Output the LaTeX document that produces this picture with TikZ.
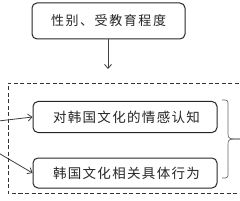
\documentclass[tikz,border=0pt]{standalone}
\usepackage{fontspec}
\newfontfamily\cjk{Noto Sans CJK SC}
\usetikzlibrary{arrows.meta}
\newcommand\spreadtxt[2]{\makebox[#1][s]{#2}}
\begin{document}
\begin{tikzpicture}[x=1pt,y=-1pt,
  roundbox/.style={draw=black!85, rounded corners=5pt, line width=1pt, inner sep=0pt, text=black!85},
  conn/.style={draw=black!75, line width=0.8pt, -{Straight Barb[length=4pt,width=7pt]}},
  dashline/.style={draw=black!80, line width=0.9pt, dash pattern=on 4pt off 2.5pt}]
\useasboundingbox (0,0) rectangle (240,200);
\node[roundbox, minimum width=153pt, minimum height=36pt, font=\fontsize{13pt}{15pt}\cjk] (top) at (108.5,21)
  {\spreadtxt{115pt}{性\hfil 别\hfil 、\hfil 受\hfil 教\hfil 育\hfil 程\hfil 度}\hspace{12pt}};
\node[roundbox, minimum width=184pt, minimum height=31pt, font=\fontsize{13.5pt}{15pt}\cjk] (b1) at (125,117)
  {\hspace{3pt}\spreadtxt{147pt}{对\hfil 韩\hfil 国\hfil 文\hfil 化\hfil 的\hfil 情\hfil 感\hfil 认\hfil 知}};
\node[roundbox, minimum width=184pt, minimum height=30pt, font=\fontsize{13.5pt}{15pt}\cjk] (b2) at (125,173)
  {\hspace{3pt}\spreadtxt{147pt}{韩\hfil 国\hfil 文\hfil 化\hfil 相\hfil 关\hfil 具\hfil 体\hfil 行\hfil 为}};
\coordinate (tipA) at (108,69);
\draw[conn] (top.south -| tipA) -- (tipA);
\coordinate (dl) at (8,83);
\coordinate (dr) at (245,83);
\coordinate (bl) at (8,193);
\coordinate (br) at (245,193);
\draw[dashline] (dr) -- (dl) -- (bl) -- (br);
\coordinate (src1) at (-10,122);
\coordinate (src2) at (-10,148);
\draw[conn] (src1) -- (b1.west |- 0,117);
\draw[conn] (src2) -- (b2.west |- 0,173);
\coordinate (brt) at (222,100);
\coordinate (brb) at (222,178);
\coordinate (brm) at (242,139);
\draw[draw=black!60, line width=0.7pt] (brt) .. controls (228,100) .. (228,106) -- (228,133) .. controls (228,139) .. (brm);
\draw[draw=black!60, line width=0.7pt] (brb) .. controls (228,178) .. (228,172) -- (228,145) .. controls (228,139) .. (brm);
\end{tikzpicture}
\end{document}
